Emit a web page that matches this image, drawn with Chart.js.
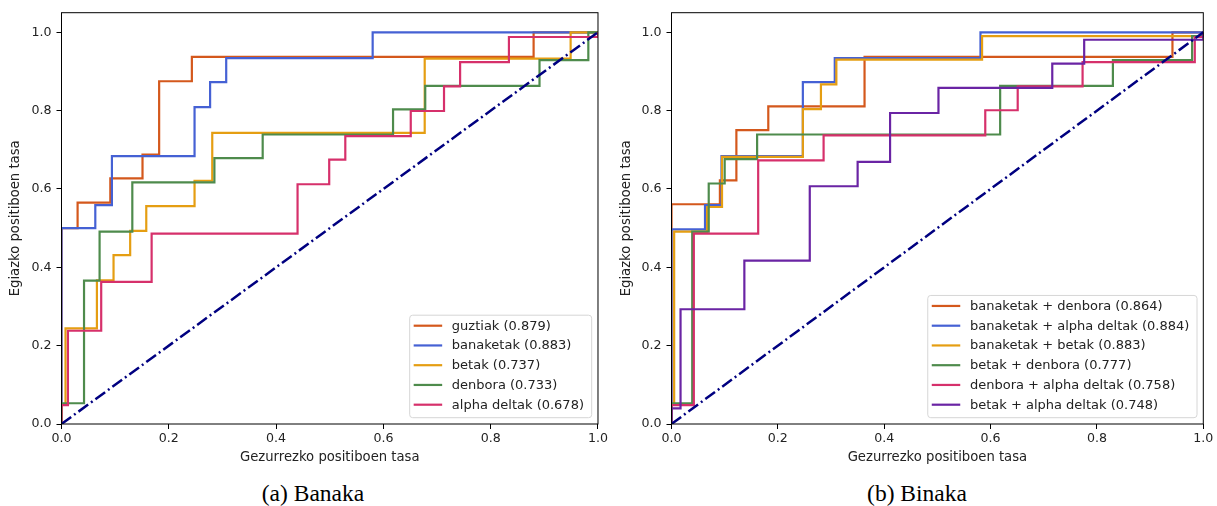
<!DOCTYPE html>
<html>
<head>
<meta charset="utf-8">
<script src="https://cdn.jsdelivr.net/npm/chart.js@4.4.0/dist/chart.umd.min.js"></script>
<style>
  body { margin: 0; background: #fff; width: 1217px; height: 506px; position: relative; overflow: hidden; }
  canvas { position: absolute; top: 0; }
  #chartA { left: 0; }
  #chartB { left: 610px; }
  .caption { position: absolute; top: 479px; font-family: "Liberation Serif", "DejaVu Serif", serif; font-size: 23.5px; line-height: 28px; color: #000; transform: translateX(-50%); white-space: nowrap; }
</style>
</head>
<body>
<canvas id="chartA" width="610" height="470"></canvas>
<canvas id="chartB" width="607" height="470"></canvas>
<div class="caption" style="left: 313px;">(a) Banaka</div>
<div class="caption" style="left: 917px;">(b) Binaka</div>
<script>
// ticks
const xTicks = [0.0, 0.2, 0.4, 0.6, 0.8, 1.0];
const yTicks = [0.0, 0.2, 0.4, 0.6, 0.8, 1.0];

// (a) Banaka - jump points of each ROC curve (fpr, tpr)
const namesA = ['guztiak', 'banaketak', 'betak', 'denbora', 'alpha deltak'];
const aucA = [0.879, 0.883, 0.737, 0.733, 0.678];
const guztiakFpr = [0, 0, 0.030, 0.091, 0.151, 0.182, 0.243, 0.880, 1];
const guztiakTpr = [0, 0.5, 0.565, 0.627, 0.688, 0.875, 0.937, 1.0, 1];
const banaketakFpr = [0, 0, 0.063, 0.094, 0.248, 0.277, 0.307, 0.580, 1];
const banaketakTpr = [0, 0.5, 0.559, 0.684, 0.809, 0.873, 0.934, 1.0, 1];
const betakFpr = [0, 0, 0.0075, 0.066, 0.097, 0.128, 0.158, 0.248, 0.281, 0.677, 0.949, 1];
const betakTpr = [0, 0.05, 0.244, 0.367, 0.431, 0.493, 0.556, 0.621, 0.743, 0.933, 1.0, 1];
const denboraFpr = [0, 0, 0.042, 0.071, 0.132, 0.285, 0.375, 0.618, 0.678, 0.891, 0.982, 1];
const denboraTpr = [0, 0.053, 0.366, 0.491, 0.617, 0.679, 0.739, 0.803, 0.863, 0.929, 1.0, 1];
const alphaFpr = [0, 0, 0.012, 0.074, 0.168, 0.440, 0.499, 0.529, 0.651, 0.713, 0.743, 0.834, 1];
const alphaTpr = [0, 0.048, 0.238, 0.363, 0.486, 0.612, 0.675, 0.735, 0.799, 0.862, 0.924, 0.988, 1];

// (b) Binaka
const namesB = ['banaketak + denbora', 'banaketak + alpha deltak', 'banaketak + betak',
                'betak + denbora', 'denbora + alpha deltak', 'betak + alpha deltak'];
const aucB = [0.864, 0.884, 0.883, 0.777, 0.758, 0.748];
const banDenFpr = [0, 0, 0.091, 0.122, 0.182, 0.363, 0.942, 1];
const banDenTpr = [0, 0.561, 0.622, 0.750, 0.811, 0.937, 1.0, 1];
const banAlpFpr = [0, 0, 0.063, 0.094, 0.247, 0.307, 0.581, 1];
const banAlpTpr = [0, 0.497, 0.559, 0.684, 0.873, 0.934, 1.0, 1];
const banBetFpr = [0, 0, 0.005, 0.067, 0.095, 0.247, 0.281, 0.310, 0.584, 1];
const banBetTpr = [0, 0.05, 0.491, 0.554, 0.682, 0.804, 0.867, 0.930, 0.990, 1];
const betDenFpr = [0, 0, 0.039, 0.070, 0.100, 0.161, 0.618, 0.830, 0.979, 1];
const betDenTpr = [0, 0.053, 0.491, 0.614, 0.676, 0.739, 0.863, 0.929, 0.990, 1];
const denAlpFpr = [0, 0, 0.042, 0.163, 0.286, 0.590, 0.651, 0.773, 0.984, 1];
const denAlpTpr = [0, 0.048, 0.486, 0.673, 0.737, 0.801, 0.862, 0.924, 0.988, 1];
const betAlpFpr = [0, 0, 0.017, 0.137, 0.260, 0.350, 0.411, 0.502, 0.716, 0.776, 1];
const betAlpTpr = [0, 0.04, 0.293, 0.417, 0.607, 0.669, 0.794, 0.858, 0.920, 0.981, 1];

const diagX = [0, 1];
const diagY = [0, 1];

const colorsA = ['#d4581c', '#4561d4', '#e59e12', '#4e8b4c', '#d6306b'];
const colorsB = ['#d4581c', '#4561d4', '#e59e12', '#4e8b4c', '#d6306b', '#6a24a4'];

const FONT = "'DejaVu Sans', sans-serif";
const pts = (xs, ys) => xs.map((x, i) => ({ x: x, y: ys[i] }));

// marko osoa eta legenda barruan
const framePlugin = {
    id: 'frame',
    afterDatasetsDraw(chart) {
        const { ctx, chartArea: a } = chart;
        ctx.save();
        ctx.strokeStyle = '#000';
        ctx.lineWidth = 1;
        ctx.strokeRect(a.left, a.top, a.right - a.left, a.bottom - a.top);

        // legend
        const items = chart.data.datasets.filter(d => !d.isDiagonal);
        ctx.font = '13px ' + FONT;
        let maxW = 0;
        items.forEach(d => { maxW = Math.max(maxW, ctx.measureText(d.label).width); });
        const rowH = 19.75;
        const boxW = 4 + 28.5 + 9.7 + maxW + 7.7;
        const boxH = 10.5 + rowH * (items.length - 1) + 13;
        const bx = a.right - 6.3 - boxW;
        const by = a.bottom - 6.3 - boxH;
        ctx.beginPath();
        ctx.roundRect(bx, by, boxW, boxH, 3);
        ctx.fillStyle = 'rgba(255,255,255,0.85)';
        ctx.fill();
        ctx.strokeStyle = '#d6d6d6';
        ctx.stroke();
        items.forEach((d, i) => {
            const ry = by + 10.5 + i * rowH;
            ctx.beginPath();
            ctx.moveTo(bx + 4, ry);
            ctx.lineTo(bx + 32.5, ry);
            ctx.strokeStyle = d.borderColor;
            ctx.lineWidth = 2.2;
            ctx.stroke();
            ctx.fillStyle = '#222';
            ctx.textBaseline = 'middle';
            ctx.textAlign = 'left';
            ctx.fillText(d.label, bx + 42.2, ry + 0.5);
        });
        ctx.restore();
    }
};

function makeChart(id, names, aucs, colors, curves, yTitlePad, rightPad) {
    const datasets = curves.map((c, i) => ({
        label: names[i] + ' (' + aucs[i].toFixed(3) + ')',
        data: pts(c[0], c[1]),
        borderColor: colors[i],
        borderWidth: 2.2,
        stepped: 'before',
        pointRadius: 0,
        fill: false,
        order: -i
    }));
    datasets.push({
        label: 'diagonal',
        isDiagonal: true,
        data: pts(diagX, diagY),
        borderColor: '#000080',
        borderWidth: 2.5,
        borderDash: [12, 3.5, 2, 3.5],
        pointRadius: 0,
        fill: false,
        order: -100
    });

    const tickGrid = { drawOnChartArea: false, drawTicks: true, tickLength: 5, tickColor: '#000', tickWidth: 1 };

    return new Chart(document.getElementById(id), {
        type: 'line',
        data: { datasets: datasets },
        options: {
            responsive: false,
            animation: false,
            events: [],
            layout: { padding: { left: 0, right: rightPad, top: 12.7, bottom: 0 } },
            plugins: { legend: { display: false }, tooltip: { enabled: false } },
            scales: {
                x: {
                    type: 'linear', min: 0, max: 1,
                    afterBuildTicks: s => { s.ticks = xTicks.map(v => ({ value: v })); },
                    afterFit: s => { s.height = 46; },
                    grid: tickGrid,
                    border: { display: false },
                    ticks: { color: '#222', font: { family: FONT, size: 12.6 }, padding: 2, maxRotation: 0,
                             callback: v => v.toFixed(1) },
                    title: { display: true, text: 'Gezurrezko positiboen tasa', color: '#222',
                             font: { family: FONT, size: 13.2 }, padding: { top: 0, bottom: 4.6 } }
                },
                y: {
                    type: 'linear', min: 0, max: 1.05,
                    afterBuildTicks: s => { s.ticks = yTicks.map(v => ({ value: v })); },
                    afterFit: s => { s.width = 61.5; },
                    grid: tickGrid,
                    border: { display: false },
                    ticks: { color: '#222', font: { family: FONT, size: 12.6 }, padding: 5,
                             callback: v => v.toFixed(1) },
                    title: { display: true, text: 'Egiazko positiboen tasa', color: '#222',
                             font: { family: FONT, size: 13.2 }, padding: { top: yTitlePad, bottom: 0 } }
                }
            }
        },
        plugins: [framePlugin]
    });
}

makeChart('chartA', namesA, aucA, colorsA, [
    [guztiakFpr, guztiakTpr],
    [banaketakFpr, banaketakTpr],
    [betakFpr, betakTpr],
    [denboraFpr, denboraTpr],
    [alphaFpr, alphaTpr]
], 7.8, 10.7);

makeChart('chartB', namesB, aucB, colorsB, [
    [banDenFpr, banDenTpr],
    [banAlpFpr, banAlpTpr],
    [banBetFpr, banBetTpr],
    [betDenFpr, betDenTpr],
    [denAlpFpr, denAlpTpr],
    [betAlpFpr, betAlpTpr]
], 8.8, 13.7);
</script>
</body>
</html>
